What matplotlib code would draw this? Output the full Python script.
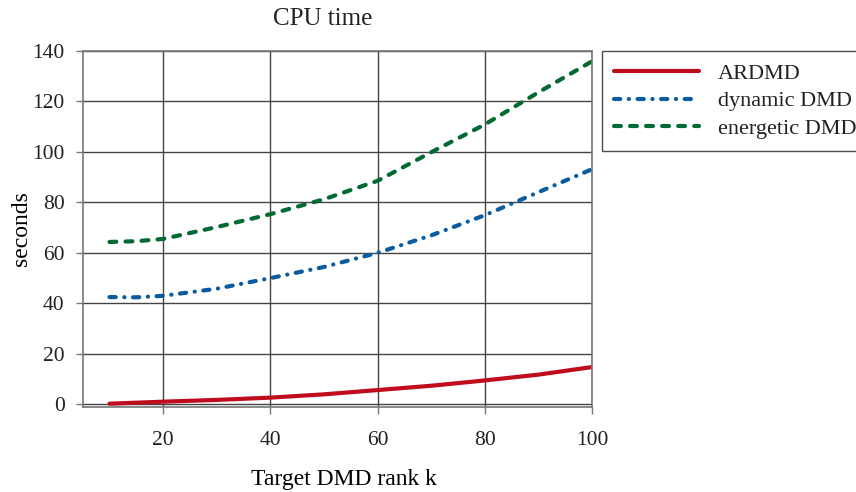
import matplotlib.pyplot as plt

# target DMD rank k
rank_k = [10, 15, 20, 30, 40, 50, 60, 70, 80, 90, 100]

# CPU time in seconds
ardmd = [0.3, 0.7, 1.1, 1.8, 2.7, 4.0, 5.7, 7.4, 9.5, 11.8, 14.8]
dynamic_dmd = [42.5, 42.4, 43.0, 45.8, 50.0, 54.4, 60.0, 66.9, 74.9, 84.0, 93.1]
energetic_dmd = [64.3, 64.6, 65.5, 70.2, 75.3, 81.2, 88.5, 99.8, 110.8, 123.5, 135.8]

labels = ["ARDMD", "dynamic DMD", "energetic DMD"]

plt.rcParams['font.family'] = ['Liberation Serif', 'DejaVu Serif']
plt.rcParams['text.color'] = '#222222'

fig = plt.figure(figsize=(8.56, 4.92), dpi=100)
ax = fig.add_axes([0.0966, 0.1728, 0.5950, 0.7242])

# round caps make each dash longer by one line width, so the on/off lengths are trimmed
ax.plot(rank_k, ardmd, color='#c00d1e', linewidth=3, solid_capstyle='round', label=labels[0])
ax.plot(rank_k, dynamic_dmd, color='#0a5ca0', linewidth=3, dashes=(1.5, 2.05, 0.05, 2.05),
        dash_capstyle='round', label=labels[1])
ax.plot(rank_k, energetic_dmd, color='#006a32', linewidth=3, dashes=(1.65, 2.2),
        dash_capstyle='round', label=labels[2])

ax.set_xlim(5, 100)
ax.set_ylim(-1, 140)
ax.set_xticks([20, 40, 60, 80, 100])
ax.set_yticks(range(0, 141, 20))
ax.grid(True, color='#444444', linewidth=1)
ax.set_axisbelow(True)
for s in ax.spines.values():
    s.set_color('#777777')
    s.set_linewidth(1.2)
ax.tick_params(direction='out', length=5, width=1, color='#777777', labelsize=15.5, labelcolor='#222222')
ax.tick_params(axis='x', pad=12)
ax.tick_params(axis='y', pad=8)

ax.set_ylabel("seconds", fontsize=17)
ax.yaxis.set_label_coords(-0.10, 0.5)
ax.set_xlabel("Target DMD rank k", fontsize=17)
ax.xaxis.set_label_coords(0.513, -0.175)
fig.text(323 / 856, 1 - 19 / 492, "CPU time", fontsize=18, ha='center', va='center')

leg = fig.legend(loc='upper left', bbox_to_anchor=(602 / 856, 1 - 51 / 492), fontsize=16,
                 frameon=True, fancybox=False, handlelength=3.8, handletextpad=0.85,
                 labelspacing=0.32, borderpad=0.55, borderaxespad=0)
leg.get_frame().set_edgecolor('#222222')
leg.get_frame().set_linewidth(1)

fig.savefig("out.png", dpi=100)
